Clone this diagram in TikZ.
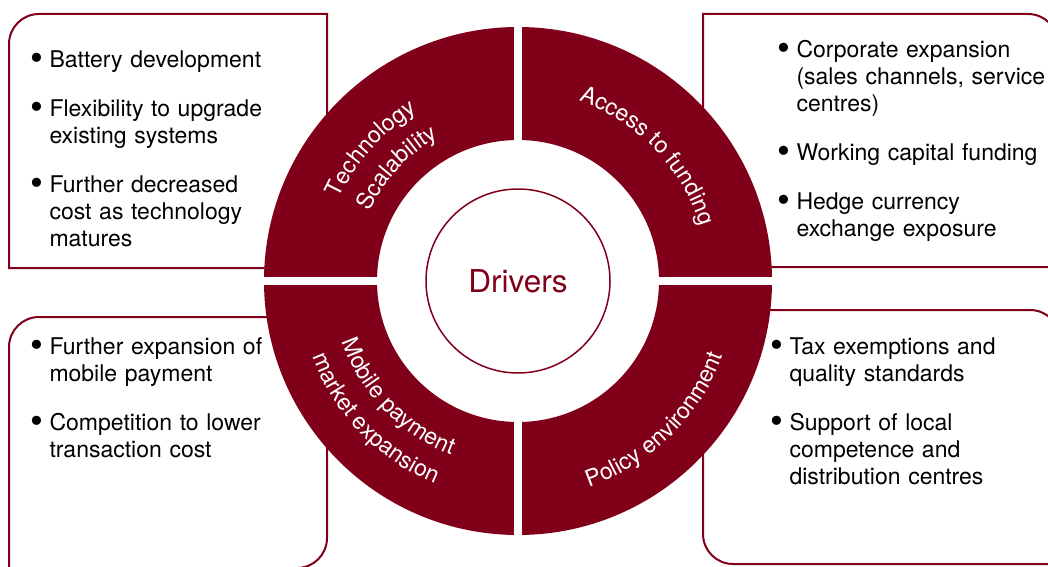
\documentclass[tikz,border=0pt]{standalone}
\usepackage{graphicx}
\usepackage{fontspec}
\setmainfont{TeX Gyre Heros}
\usetikzlibrary{positioning}
\usetikzlibrary{decorations.text}
\definecolor{drvred}{RGB}{128,0,26}
\newcommand{\itemfont}{\fontsize{23}{27}\selectfont}
\newcommand{\ringfont}{\fontsize{23}{27}\selectfont}
\newcommand{\itemdot}{\raisebox{-2.5pt}{\scalebox{1.6}{\textbullet}}}
\tikzstyle{boxline} = [draw=drvred, line width=2pt]
\tikzstyle{gap} = [draw=white, line width=8pt]
\tikzstyle{itemtext} = [anchor=north west, text width=255pt, align=left,
inner sep=0pt, outer sep=0pt, font=\itemfont, node distance=22pt,
execute at begin node={\leavevmode\llap{\itemdot\hspace{6pt}}\strut},
execute at end node={\strut}]
\tikzstyle{core} = [circle, draw=drvred, fill=white, line width=1.5pt,
minimum size=184pt, text=drvred, font=\fontsize{31.5}{32}\selectfont]
\tikzset{ringlabel/.style={decorate, decoration={text along path,
  text align=center, text color=white, text={|\ringfont|#1}}}}
\newcommand{\arclabel}[4]{ %
  % Write #1 along an arc of radius #4 round (c), from angle #2 to #3.
  \path[ringlabel={#1}] ([shift={(#2:#4)}]c)
    arc[start angle=#2, end angle=#3, radius=#4] ;%
}

\begin{document}
\begin{tikzpicture}[x=1pt, y=1pt]
				\useasboundingbox (0,0) rectangle (1048,566);
				\coordinate (c) at (518,285);

				% frames behind the ring
				\draw[boxline] (327,298) -- (9,298) -- (9,522)
					arc[start angle=180, end angle=90, radius=30] -- (327,552) -- cycle;
				\draw[boxline] (703,299) -- (703,552) -- (1028,552)
					arc[start angle=90, end angle=0, radius=30] -- (1058,299) -- cycle;
				\draw[boxline] (9,-2) -- (9,219)
					arc[start angle=180, end angle=90, radius=30] -- (327,249) -- (327,28)
					arc[start angle=0, end angle=-90, radius=30] -- cycle;
				\draw[boxline] (733,2) arc[start angle=270, end angle=180, radius=30]
					-- (703,256) -- (1030,256)
					arc[start angle=90, end angle=0, radius=30] -- (1060,2) -- cycle;

				% ring in four parts
				\fill[drvred, even odd rule] (c) circle[radius=254] (c) circle[radius=141];
				\draw[gap] ([xshift=-258pt]c) -- ([xshift=258pt]c);
				\draw[gap] ([yshift=-258pt]c) -- ([yshift=258pt]c);
				\node[core] (drv) at (c) {Drivers} ; %

				\arclabel{Access to funding}{84}{4}{190}
				\arclabel{Technology}{178}{98}{197}
				\arclabel{Scalability}{177}{97}{164}
				\arclabel{Mobile payment}{184}{264}{186}
				\arclabel{market expansion}{184}{264}{219}
				\arclabel{Policy environment}{274.5}{354.5}{218}

				\node[itemtext] (batt) at (49.5,517) {Battery development}; %
				\node[itemtext, below=of batt] (flex) {Flexibility to upgrade\\existing systems}; %
				\node[itemtext, below=of flex] (cost) {Further decreased\\cost as technology\\matures}; %

				\node[itemtext] (corp) at (796.5,527) {Corporate expansion\\(sales channels, service\\centres)}; %
				\node[itemtext, below=of corp] (work) {Working capital funding}; %
				\node[itemtext, below=of work] (hedge) {Hedge currency\\exchange exposure}; %

				\node[itemtext] (mob) at (49.5,230) {Further expansion of\\mobile payment}; %
				\node[itemtext, below=of mob] (comp) {Competition to lower\\transaction cost}; %

				\node[itemtext] (tax) at (789.5,230) {Tax exemptions and\\quality standards}; %
				\node[itemtext, below=of tax] (supp) {Support of local\\competence and\\distribution centres}; %
\end{tikzpicture}
\end{document}
